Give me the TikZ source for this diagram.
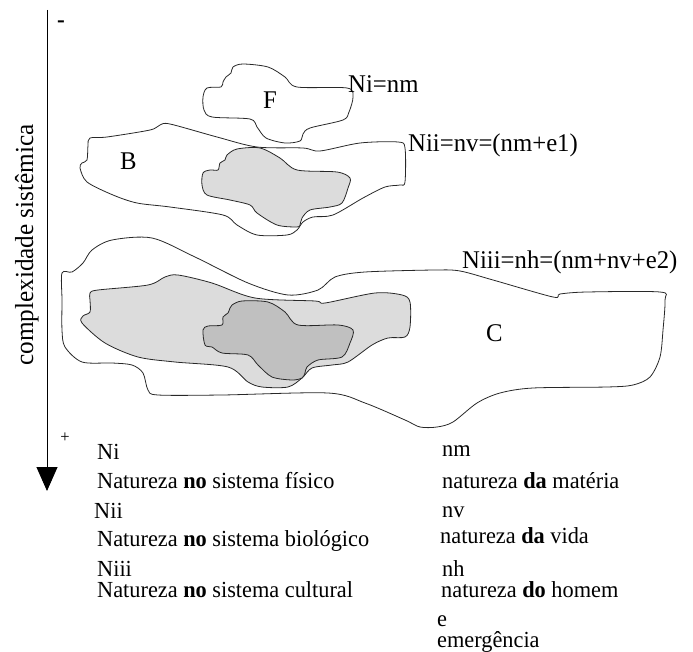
\documentclass[tikz,border=0pt]{standalone}
\usepackage{fontspec}
\setmainfont[FakeStretch=0.97]{Liberation Serif}
\usetikzlibrary{arrows.meta}
\definecolor{outline}{RGB}{40,40,40}
\definecolor{lightfill}{RGB}{220,220,220}
\definecolor{darkfill}{RGB}{192,192,192}

\begin{document}
\begin{tikzpicture}[x=1pt, y=-1pt,
    blob/.style={draw=outline, line width=0.8pt},
    lbl/.style={inner sep=0pt, anchor=base west, font=\fontsize{25.5}{30}\selectfont},
    txt/.style={inner sep=0pt, anchor=base west, font=\fontsize{23}{27}\selectfont},
    sign/.style={inner sep=0pt, font=\fontsize{17}{20}\selectfont}]
    \useasboundingbox (0,0) rectangle (693,652);

    % axis
    \coordinate (axtop) at (47,10);
    \coordinate (axbot) at (47,491);
    \draw[line width=0.9pt, -{Triangle[width=21pt,length=24pt]}] (axtop) -- (axbot);
    \node[sign, font=\fontsize{24}{26}\bfseries] (minus) at (61,24) {-};
    \node[sign] (plus) at (65,438) {+};
    \node[rotate=90, anchor=base, inner sep=0pt, font=\fontsize{26}{30}\selectfont] (axlabel) at (33,245) {complexidade sistêmica};

    % F
    \draw[blob] plot[smooth cycle, tension=0.5] coordinates {
        (207,88) (203,97) (204,110) (212,117) (250,119) (257,127) (266,138)
        (285,143) (300,141) (303,134) (310,128) (343,120) (349,112) (353,97)
        (347,88) (297,87) (285,77) (268,67) (243,64) (233,67) (231,73)
        (226,77) (223,82) (221,87)};
    \node[lbl] (flabel) at (263,109) {F};
    \node[lbl] (ni) at (348,93) {Ni=nm};

    % B
    \draw[blob] plot[smooth cycle, tension=0.5] coordinates {
        (90,138) (107,137) (150,130) (160,125) (170,124) (217,137) (257,147)
        (303,148) (320,151) (360,143) (398,142) (405,148) (405,182) (400,185)
        (385,187) (363,198) (333,215) (313,217) (303,222) (297,230) (287,235)
        (257,235) (237,225) (223,215) (170,207) (137,203) (113,195) (87,182)
        (80,168) (82,163) (87,160) (88,145)};
    \draw[blob, fill=lightfill] plot[smooth cycle, tension=0.5] coordinates {
        (227,155) (237,149) (260,148) (280,158) (297,170) (337,172) (350,178)
        (348,188) (342,203) (330,207) (310,210) (302,218) (300,225) (297,227)
        (277,225) (257,213) (250,205) (230,200) (207,195) (202,185) (203,173)
        (210,170) (218,170) (220,163) (225,160)};
    \node[lbl] (blabel) at (120,170) {B};
    \node[lbl] (nii) at (408,152) {Nii=nv=(nm+e1)};

    % C
    \draw[blob] plot[smooth cycle, tension=0.5] coordinates {
        (62,273) (72,272) (83,263) (92,250) (112,240) (152,238) (195,257)
        (248,283) (288,295) (318,290) (335,277) (365,272) (435,270) (460,271)
        (493,280) (553,297) (560,294) (587,292) (660,292) (665,300) (663,330)
        (660,357) (650,377) (633,385) (607,387) (533,388) (500,393) (477,403)
        (453,422) (437,427) (420,427) (405,420) (365,403) (328,393) (222,395)
        (158,395) (148,390) (143,373) (132,365) (112,363) (82,362) (65,347)
        (62,330) (62,300)};
    \draw[blob, fill=lightfill] plot[smooth cycle, tension=0.5] coordinates {
        (90,293) (98,290) (148,285) (165,277) (178,275) (212,283) (255,298)
        (315,301) (325,303) (375,293) (402,295) (410,302) (410,327) (405,337)
        (388,338) (372,345) (348,362) (332,365) (312,368) (302,378) (288,387)
        (262,387) (248,382) (228,367) (175,362) (138,357) (105,343) (82,323)
        (83,316) (90,312) (90,300)};
    \draw[blob, fill=darkfill] plot[smooth cycle, tension=0.5] coordinates {
        (232,305) (242,301) (268,302) (285,312) (298,325) (338,325) (353,330)
        (350,343) (342,357) (318,360) (307,367) (305,373) (302,378) (292,380)
        (272,377) (258,365) (248,355) (222,353) (212,347) (205,345) (203,330)
        (208,326) (222,325) (223,317) (228,313) (230,308)};
    \node[lbl] (clabel) at (486,341) {C};
    \node[lbl] (niii) at (462,269) {Niii=nh=(nm+nv+e2)};

    % legend, left column
    \node[txt] (l1) at (97,459) {Ni};
    \node[txt] (l2) at (97,488) {Natureza \textbf{no} sistema físico};
    \node[txt] (l3) at (94,518) {Nii};
    \node[txt] (l4) at (97,546) {Natureza \textbf{no} sistema biológico};
    \node[txt] (l5) at (97,576) {Niii};
    \node[txt] (l6) at (97,597) {Natureza \textbf{no} sistema cultural};

    % legend, right column
    \node[txt] (r1) at (442,456) {nm};
    \node[txt] (r2) at (442,488) {natureza \textbf{da} matéria};
    \node[txt] (r3) at (442,517) {nv};
    \node[txt] (r4) at (440,543) {natureza \textbf{da} vida};
    \node[txt] (r5) at (442,576) {nh};
    \node[txt] (r6) at (441,597) {natureza \textbf{do} homem};
    \node[txt] (r7) at (437,626) {e};
    \node[txt] (r8) at (437,647) {emergência};
\end{tikzpicture}
\end{document}
